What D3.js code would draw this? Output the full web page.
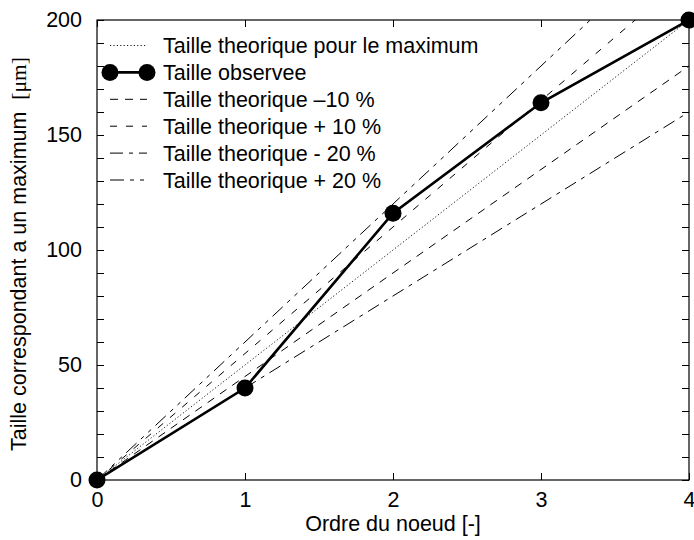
<!DOCTYPE html>
<html>
<head>
<meta charset="utf-8">
<script src="https://cdn.jsdelivr.net/npm/d3@7"></script>
<style>
  body { margin: 0; background: #fff; }
  svg { font-family: "Liberation Sans", Arial, sans-serif; }
</style>
</head>
<body>
<svg id="chart" width="694" height="540"></svg>
<script>
// Node order along the x axis
const nodes = [0, 1, 2, 3, 4];
// Observed size at each node (µm)
const observed = [0, 40, 116, 164, 200];
// Theoretical size reaching the maximum at the last node, and its variants
const theoretical = [0, 50, 100, 150, 200];
const minus10 = [0, 45, 90, 135, 180];
const plus10 = [0, 55, 110, 165, 220];
const minus20 = [0, 40, 80, 120, 160];
const plus20 = [0, 60, 120, 180, 240];
const xTicks = [0, 1, 2, 3, 4];
const yTicks = [0, 50, 100, 150, 200];
const yMinorTicks = d3.range(0, 201, 10);

const legendLabels = [
  "Taille theorique pour le maximum",
  "Taille observee",
  "Taille theorique \u201310 %",
  "Taille theorique + 10 %",
  "Taille theorique - 20 %",
  "Taille theorique + 20 %"
];

const svg = d3.select("#chart");
const m = { left: 97, right: 689, top: 20, bottom: 480 };

const x = d3.scaleLinear().domain([0, 4]).range([m.left, m.right]);
const y = d3.scaleLinear().domain([0, 200]).range([m.bottom, m.top]);

// Clip region for lines that go past the top of the frame
svg.append("defs").append("clipPath").attr("id", "plotclip")
  .append("rect")
  .attr("x", m.left).attr("y", m.top)
  .attr("width", m.right - m.left).attr("height", m.bottom - m.top);

// Axes with inward ticks on all four sides
const fontSize = 21.5;
const bottomAxis = d3.axisBottom(x).tickValues(xTicks).tickSize(-7).tickPadding(12).tickFormat(d3.format("d"));
const topAxis = d3.axisTop(x).tickValues(xTicks).tickSize(-7).tickFormat("");
const leftAxis = d3.axisLeft(y).tickValues(yMinorTicks).tickSize(-7).tickPadding(15)
  .tickFormat(d => yTicks.includes(d) ? d : "");
const rightAxis = d3.axisRight(y).tickValues(yMinorTicks).tickSize(-7).tickFormat("");

function styleAxis(g) {
  g.select(".domain").remove();
  g.selectAll("line").attr("stroke", "#000").attr("stroke-width", 1);
  g.selectAll("text").attr("fill", "#000").attr("font-size", fontSize)
    .attr("font-family", "Liberation Sans, Arial, sans-serif");
}

svg.append("g").attr("transform", `translate(0,${m.bottom})`).call(bottomAxis).call(styleAxis);
svg.append("g").attr("transform", `translate(0,${m.top})`).call(topAxis).call(styleAxis);
svg.append("g").attr("transform", `translate(${m.left},0)`).call(leftAxis).call(styleAxis);
svg.append("g").attr("transform", `translate(${m.right},0)`).call(rightAxis).call(styleAxis);

// Frame
svg.append("rect")
  .attr("x", m.left).attr("y", m.top)
  .attr("width", m.right - m.left).attr("height", m.bottom - m.top)
  .attr("fill", "none").attr("stroke", "#000").attr("stroke-width", 1.2);

// Axis titles
svg.append("text")
  .attr("x", (m.left + m.right) / 2).attr("y", 531)
  .attr("text-anchor", "middle").attr("font-size", fontSize)
  .text("Ordre du noeud [-]");

const yTitle = svg.append("text")
  .attr("transform", `translate(26,${(m.top + m.bottom) / 2 + 4}) rotate(-90)`)
  .attr("text-anchor", "middle").attr("font-size", fontSize);
yTitle.append("tspan").text("Taille correspondant a un maximum\u00a0\u00a0");
yTitle.append("tspan").attr("font-family", "Liberation Serif, Times New Roman, serif").text("[\u03bcm]");

// Series definitions
const series = [
  { values: theoretical, dash: "1.2,2.2", width: 0.9 },
  { values: observed, dash: null, width: 2.6, markers: true },
  { values: minus10, dash: "8,7", width: 1 },
  { values: plus10, dash: "7,9", width: 1 },
  { values: minus20, dash: "13,6,4,6", width: 1 },
  { values: plus20, dash: "14,6,4,6,4,6", width: 1 }
];

const line = d3.line().x((d, i) => x(nodes[i])).y(d => y(d));
const plot = svg.append("g").attr("clip-path", "url(#plotclip)");

// Reference lines first, observed curve on top
[0, 2, 3, 4, 5, 1].forEach(k => {
  const s = series[k];
  plot.append("path")
    .datum(s.values)
    .attr("d", line)
    .attr("fill", "none")
    .attr("stroke", "#000")
    .attr("stroke-width", s.width)
    .attr("stroke-dasharray", s.dash);
});

svg.append("g").selectAll("circle")
  .data(observed)
  .join("circle")
  .attr("cx", (d, i) => x(nodes[i]))
  .attr("cy", d => y(d))
  .attr("r", 8.5)
  .attr("fill", "#000");

// Legend
const legend = svg.append("g");
const rowY = d3.scalePoint().domain(d3.range(legendLabels.length)).range([45.5, 180]);
legendLabels.forEach((label, k) => {
  const s = series[k];
  const yy = rowY(k);
  legend.append("line")
    .attr("x1", 110).attr("x2", 147).attr("y1", yy).attr("y2", yy)
    .attr("stroke", "#000").attr("stroke-width", s.width)
    .attr("stroke-dasharray", s.dash);
  if (s.markers) {
    [110, 147].forEach(cx => legend.append("circle")
      .attr("cx", cx).attr("cy", yy).attr("r", 8.5).attr("fill", "#000"));
  }
  legend.append("text")
    .attr("x", 163).attr("y", yy + 7.5)
    .attr("font-size", fontSize)
    .text(label);
});
</script>
</body>
</html>
